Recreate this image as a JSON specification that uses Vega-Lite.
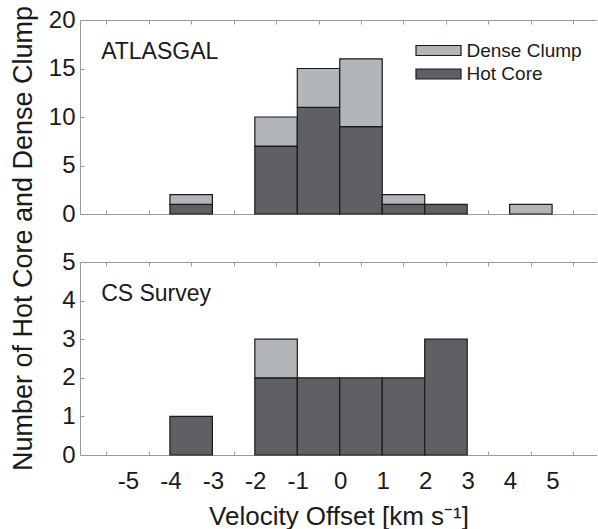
{
  "$schema": "https://vega.github.io/schema/vega-lite/v6.json",
  "padding": {"left": 8, "top": 5, "right": 0, "bottom": 0},
  "background": "white",
  "bounds": "flush",
  "spacing": 48,
  "config": {
    "font": "Liberation Sans",
    "view": {"stroke": null},
    "axis": {
      "grid": false,
      "domainColor": "#9a9a9a",
      "domainWidth": 1,
      "tickColor": "#9a9a9a",
      "tickWidth": 1,
      "labelColor": "#1a1a1a",
      "titleColor": "#1a1a1a",
      "labelFont": "Liberation Sans",
      "titleFont": "Liberation Sans",
      "titleFontWeight": "normal",
      "labelFontSize": 24,
      "titleFontSize": 27,
      "labelOverlap": false
    }
  },
  "data": {
    "values": [
      {"panel": "ATLASGAL", "bin_start": -4, "bin_end": -3, "type": "Hot Core", "count": 1},
      {"panel": "ATLASGAL", "bin_start": -4, "bin_end": -3, "type": "Dense Clump", "count": 1},
      {"panel": "ATLASGAL", "bin_start": -2, "bin_end": -1, "type": "Hot Core", "count": 7},
      {"panel": "ATLASGAL", "bin_start": -2, "bin_end": -1, "type": "Dense Clump", "count": 3},
      {"panel": "ATLASGAL", "bin_start": -1, "bin_end": 0, "type": "Hot Core", "count": 11},
      {"panel": "ATLASGAL", "bin_start": -1, "bin_end": 0, "type": "Dense Clump", "count": 4},
      {"panel": "ATLASGAL", "bin_start": 0, "bin_end": 1, "type": "Hot Core", "count": 9},
      {"panel": "ATLASGAL", "bin_start": 0, "bin_end": 1, "type": "Dense Clump", "count": 7},
      {"panel": "ATLASGAL", "bin_start": 1, "bin_end": 2, "type": "Hot Core", "count": 1},
      {"panel": "ATLASGAL", "bin_start": 1, "bin_end": 2, "type": "Dense Clump", "count": 1},
      {"panel": "ATLASGAL", "bin_start": 2, "bin_end": 3, "type": "Hot Core", "count": 1},
      {"panel": "ATLASGAL", "bin_start": 4, "bin_end": 5, "type": "Dense Clump", "count": 1},
      {"panel": "CS Survey", "bin_start": -4, "bin_end": -3, "type": "Hot Core", "count": 1},
      {"panel": "CS Survey", "bin_start": -2, "bin_end": -1, "type": "Hot Core", "count": 2},
      {"panel": "CS Survey", "bin_start": -2, "bin_end": -1, "type": "Dense Clump", "count": 1},
      {"panel": "CS Survey", "bin_start": -1, "bin_end": 0, "type": "Hot Core", "count": 2},
      {"panel": "CS Survey", "bin_start": 0, "bin_end": 1, "type": "Hot Core", "count": 2},
      {"panel": "CS Survey", "bin_start": 1, "bin_end": 2, "type": "Hot Core", "count": 2},
      {"panel": "CS Survey", "bin_start": 2, "bin_end": 3, "type": "Hot Core", "count": 3}
    ]
  },
  "vconcat": [
    {
      "width": 517,
      "height": 194,
      "layer": [
        {
          "transform": [{"filter": "datum.panel === 'ATLASGAL'"}],
          "mark": {"type": "bar", "orient": "vertical", "stroke": "#1a1a1a", "strokeWidth": 1.2},
          "encoding": {
            "x": {
              "field": "bin_start", "type": "quantitative",
              "scale": {"domain": [-6, 5.94], "nice": false, "zero": false},
              "axis": {"orient": "bottom", "values": [-5.5, -4.5, -3.5, -2.5, -1.5, -0.5, 0.5, 1.5, 2.5, 3.5, 4.5, 5.5], "labels": false, "tickSize": -4, "title": null}
            },
            "x2": {"field": "bin_end"},
            "y": {
              "field": "count", "type": "quantitative", "stack": "zero",
              "scale": {"domain": [0, 20], "nice": false},
              "axis": {"values": [0, 5, 10, 15, 20], "labelOverlap": false, "tickSize": -4, "labelPadding": 9, "title": "Number of Hot Core and Dense Clump", "titleAngle": 270, "titleAlign": "center", "titleBaseline": "alphabetic", "titleX": -49, "titleY": 218}
            },
            "color": {
              "field": "type", "type": "nominal",
              "scale": {"domain": ["Dense Clump", "Hot Core"], "range": ["#b3b6b9", "#5f6063"]},
              "legend": {"orient": "none", "legendX": 349, "legendY": 21, "title": null, "symbolType": "M-4.5,-1H4.5V1H-4.5Z", "symbolSize": 100, "symbolStrokeColor": "#1a1a1a", "symbolStrokeWidth": 1.2, "symbolOpacity": 1, "labelFontSize": 19, "labelColor": "#1a1a1a", "labelOffset": 18.5, "rowPadding": 3.5, "padding": 0}
            },
            "order": {"field": "type", "sort": "descending"}
          }
        },
        {
          "data": {"values": [{"label": "ATLASGAL"}]},
          "mark": {"type": "text", "align": "left", "baseline": "alphabetic", "fontSize": 23, "color": "#1a1a1a"},
          "encoding": {
            "x": {"datum": -5.62, "type": "quantitative", "axis": {"orient": "top", "values": [-5.5, -4.5, -3.5, -2.5, -1.5, -0.5, 0.5, 1.5, 2.5, 3.5, 4.5, 5.5], "labels": false, "tickSize": -4, "title": null}},
            "y": {"datum": 16, "type": "quantitative", "axis": {"values": [0, 5, 10, 15, 20], "labelOverlap": false, "tickSize": -4, "labelPadding": 9}},
            "text": {"field": "label"}
          }
        }
      ],
      "resolve": {"axis": {"x": "independent"}}
    },
    {
      "width": 517,
      "height": 193,
      "layer": [
        {
          "transform": [{"filter": "datum.panel === 'CS Survey'"}],
          "mark": {"type": "bar", "orient": "vertical", "stroke": "#1a1a1a", "strokeWidth": 1.2},
          "encoding": {
            "x": {
              "field": "bin_start", "type": "quantitative",
              "scale": {"domain": [-6, 5.94], "nice": false, "zero": false},
              "axis": {"orient": "bottom", "values": [-5.5, -4.5, -3.5, -2.5, -1.5, -0.5, 0.5, 1.5, 2.5, 3.5, 4.5, 5.5], "labelExpr": "datum.value > 5 ? '' : '' + (datum.value + 0.5)", "labelOffset": 21.65, "labelPadding": 18, "tickSize": -4, "title": "Velocity Offset [km s⁻¹]", "titleFontSize": 26, "titleBaseline": "alphabetic", "titleY": 69}
            },
            "x2": {"field": "bin_end"},
            "y": {
              "field": "count", "type": "quantitative", "stack": "zero",
              "scale": {"domain": [0, 5], "nice": false},
              "axis": {"values": [0, 1, 2, 3, 4, 5], "labelOverlap": false, "tickSize": -4, "labelPadding": 9, "title": null}
            },
            "color": {"field": "type", "type": "nominal"},
            "order": {"field": "type", "sort": "descending"}
          }
        },
        {
          "data": {"values": [{"label": "CS Survey"}]},
          "mark": {"type": "text", "align": "left", "baseline": "alphabetic", "fontSize": 23, "color": "#1a1a1a"},
          "encoding": {
            "x": {"datum": -5.62, "type": "quantitative", "axis": {"orient": "top", "values": [-5.5, -4.5, -3.5, -2.5, -1.5, -0.5, 0.5, 1.5, 2.5, 3.5, 4.5, 5.5], "labels": false, "tickSize": -4, "title": null}},
            "y": {"datum": 4, "type": "quantitative", "axis": {"values": [0, 1, 2, 3, 4, 5], "labelOverlap": false, "tickSize": -4, "labelPadding": 9, "title": null}},
            "text": {"field": "label"}
          }
        }
      ],
      "resolve": {"axis": {"x": "independent"}}
    }
  ]
}
